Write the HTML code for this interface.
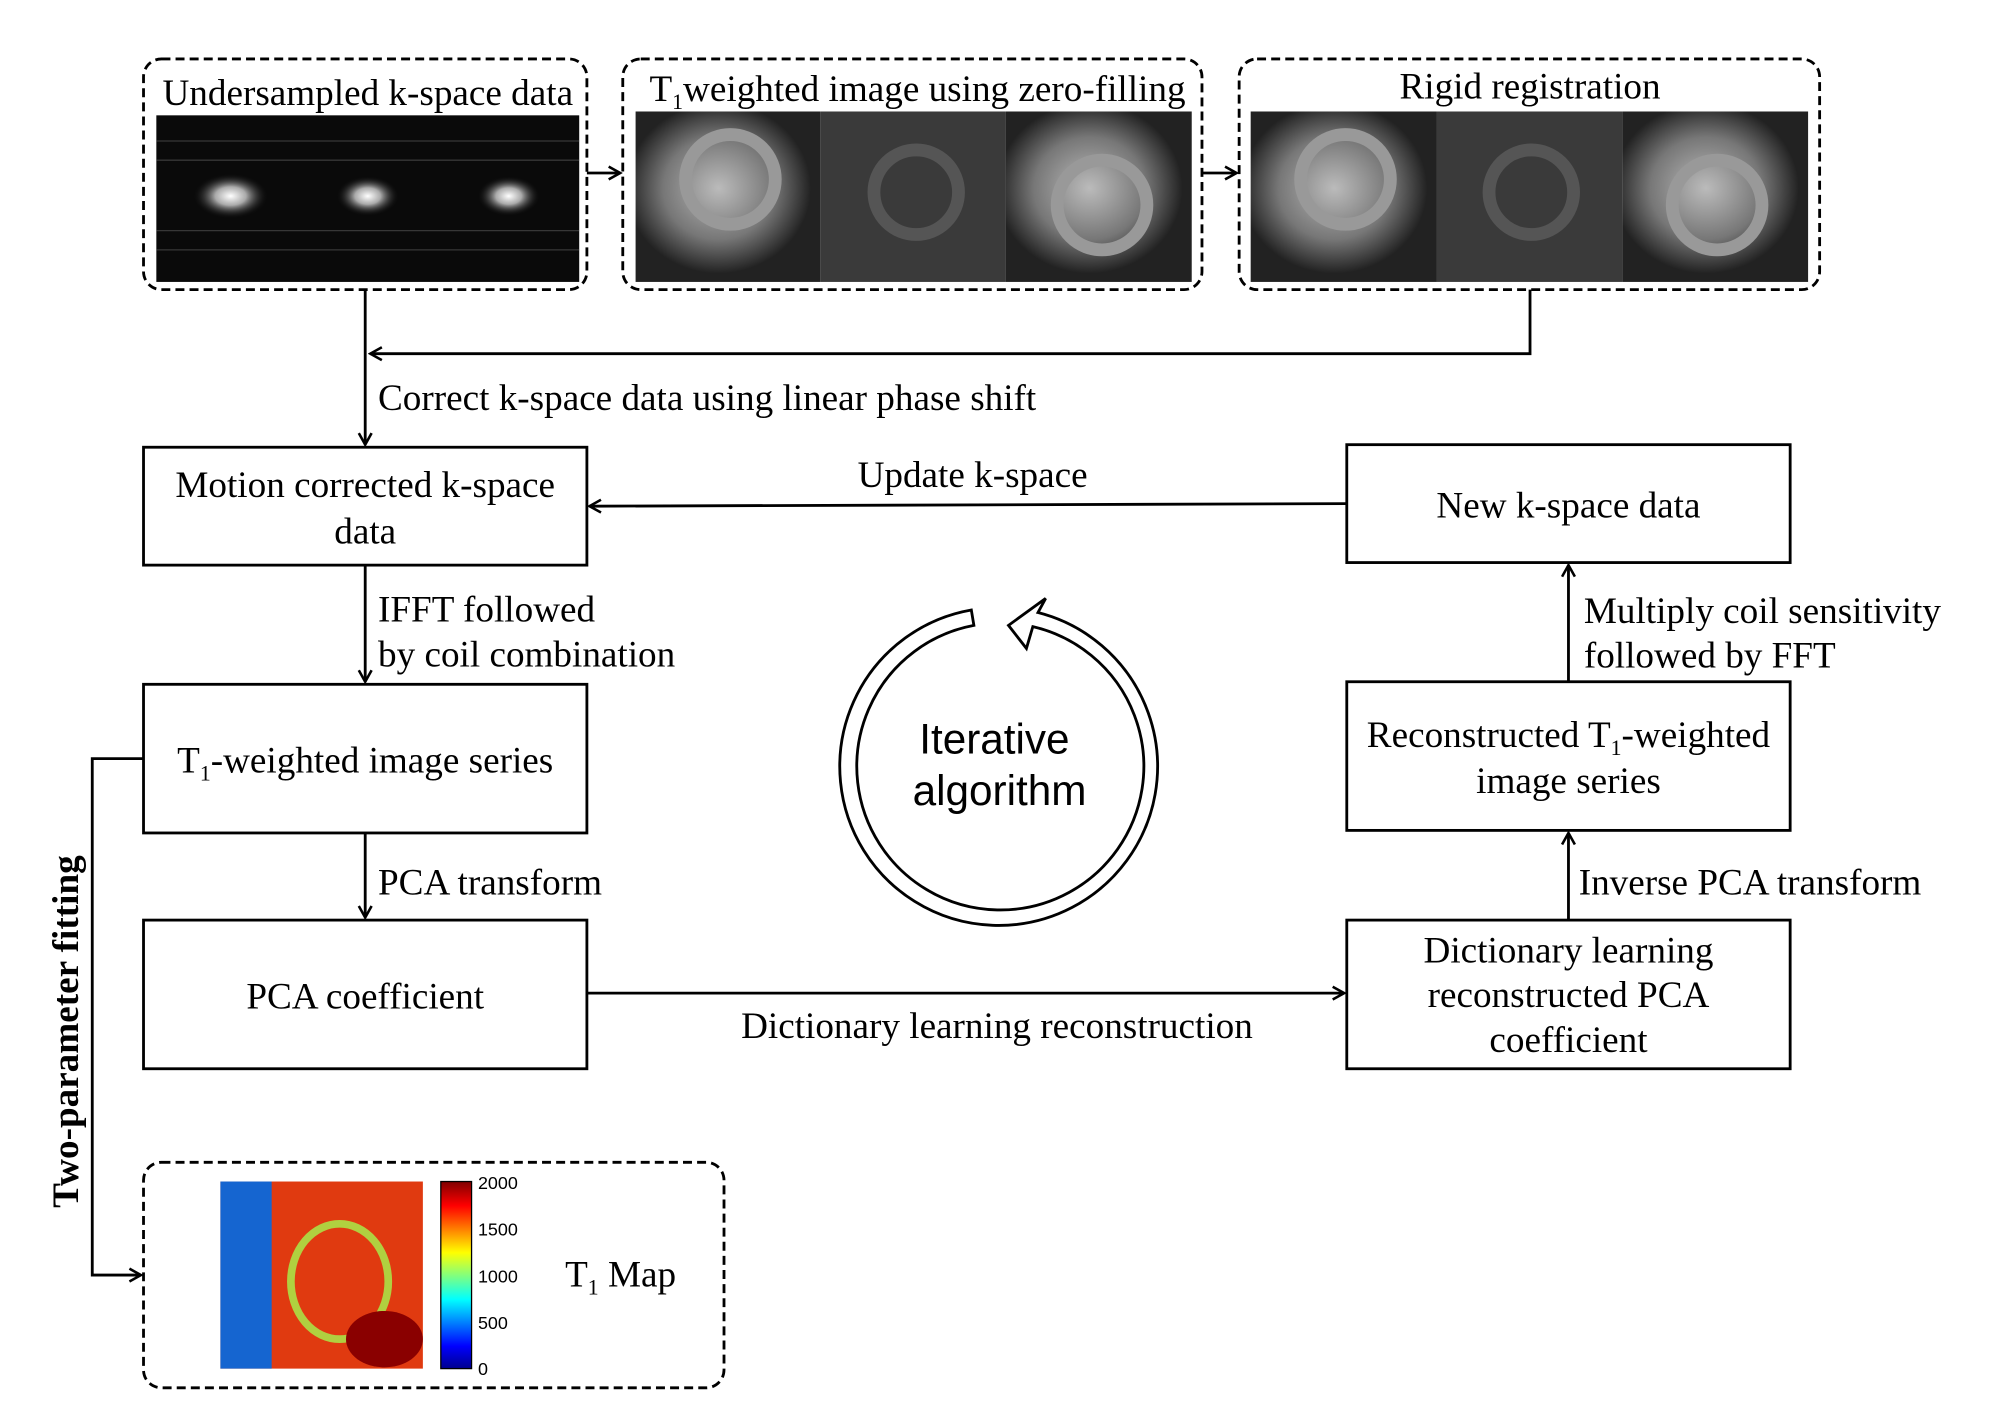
<!DOCTYPE html>
<html><head><meta charset="utf-8"><style>html,body{margin:0;padding:0;background:#fff}svg{display:block}</style></head>
<body>
<svg width="2008" height="1425" viewBox="0 0 1567 1112" preserveAspectRatio="none" xmlns="http://www.w3.org/2000/svg" font-family="Liberation Serif, serif" font-size="29">
<defs>
<marker id="a" markerWidth="12" markerHeight="12" refX="10" refY="6" orient="auto" markerUnits="userSpaceOnUse"><path d="M1,1 L10,6 L1,11" fill="none" stroke="#000" stroke-width="2"/></marker>
<linearGradient id="cb" x1="0" y1="1" x2="0" y2="0"><stop offset="0" stop-color="#00008f"/><stop offset="0.12" stop-color="#0000ff"/><stop offset="0.37" stop-color="#00ffff"/><stop offset="0.62" stop-color="#ffff00"/><stop offset="0.87" stop-color="#ff0000"/><stop offset="1" stop-color="#800000"/></linearGradient>
<radialGradient id="sp"><stop offset="0" stop-color="#fff"/><stop offset="0.4" stop-color="#aaa"/><stop offset="1" stop-color="#000" stop-opacity="0"/></radialGradient>
<radialGradient id="hr" cx="0.45" cy="0.45"><stop offset="0" stop-color="#bbb"/><stop offset="0.6" stop-color="#777"/><stop offset="1" stop-color="#222"/></radialGradient>
</defs>
<g fill="none" stroke="#000" stroke-width="2.2" stroke-dasharray="7,4">
<rect x="112" y="46" width="346" height="180" rx="14"/>
<rect x="486" y="46" width="452" height="180" rx="14"/>
<rect x="967" y="46" width="453" height="180" rx="14"/>
<rect x="112" y="907" width="453" height="176" rx="14"/>
</g>
<rect x="122" y="90" width="330" height="130" fill="#0a0a0a"/>
<g fill="url(#sp)"><ellipse cx="180" cy="153" rx="30" ry="18"/><ellipse cx="287" cy="153" rx="25" ry="16"/><ellipse cx="397" cy="153" rx="25" ry="16"/></g>
<g stroke="#555" stroke-width="1" opacity="0.6"><line x1="122" y1="110" x2="452" y2="110"/><line x1="122" y1="125" x2="452" y2="125"/><line x1="122" y1="180" x2="452" y2="180"/><line x1="122" y1="195" x2="452" y2="195"/></g>
<g>
<rect x="496" y="87" width="144" height="133" fill="url(#hr)"/><rect x="640" y="87" width="145" height="133" fill="#3a3a3a"/><rect x="785" y="87" width="145" height="133" fill="url(#hr)"/>
<rect x="976" y="87" width="145" height="133" fill="url(#hr)"/><rect x="1121" y="87" width="145" height="133" fill="#3a3a3a"/><rect x="1266" y="87" width="145" height="133" fill="url(#hr)"/>
<g fill="none" stroke="#999" stroke-width="10"><circle cx="570" cy="140" r="35"/><circle cx="715" cy="150" r="33" stroke="#555"/><circle cx="860" cy="160" r="35"/><circle cx="1050" cy="140" r="35"/><circle cx="1195" cy="150" r="33" stroke="#555"/><circle cx="1340" cy="160" r="35"/></g>
</g>
<g text-anchor="middle" fill="#000">
<text x="287" y="82">Undersampled k-space data</text>
<text x="716" y="79">T<tspan font-size="17" dy="6">1</tspan><tspan dy="-6">weighted image using zero-filling</tspan></text>
<text x="1194" y="77">Rigid registration</text>
</g>
<g fill="none" stroke="#000" stroke-width="2.2">
<line x1="458" y1="135" x2="484" y2="135" marker-end="url(#a)"/>
<line x1="938" y1="135" x2="965" y2="135" marker-end="url(#a)"/>
<polyline points="1194,226 1194,276 289,276" marker-end="url(#a)"/>
<line x1="285" y1="226" x2="285" y2="347" marker-end="url(#a)"/>
<line x1="1051" y1="393" x2="460" y2="395" marker-end="url(#a)"/>
<line x1="285" y1="441" x2="285" y2="532" marker-end="url(#a)"/>
<line x1="285" y1="650" x2="285" y2="716" marker-end="url(#a)"/>
<line x1="458" y1="775" x2="1049" y2="775" marker-end="url(#a)"/>
<line x1="1224" y1="718" x2="1224" y2="650" marker-end="url(#a)"/>
<line x1="1224" y1="532" x2="1224" y2="441" marker-end="url(#a)"/>
<polyline points="112,592 72,592 72,995 110,995" marker-end="url(#a)"/>
<rect x="112" y="349" width="346" height="92"/>
<rect x="1051" y="347" width="346" height="92"/>
<rect x="112" y="534" width="346" height="116"/>
<rect x="1051" y="532" width="346" height="116"/>
<rect x="112" y="718" width="346" height="116"/>
<rect x="1051" y="718" width="346" height="116"/>
</g>
<g fill="#000">
<text x="295" y="320">Correct k-space data using linear phase shift</text>
<text x="295" y="485">IFFT followed</text><text x="295" y="520">by coil combination</text>
<text x="295" y="698">PCA transform</text>
<text x="1232" y="698">Inverse PCA transform</text>
<text x="1236" y="486">Multiply coil sensitivity</text><text x="1236" y="521">followed by FFT</text>
</g>
<g text-anchor="middle" fill="#000">
<text x="285" y="388">Motion corrected k-space</text><text x="285" y="424">data</text>
<text x="1224" y="404">New k-space data</text>
<text x="285" y="603">T<tspan font-size="17" dy="6">1</tspan><tspan dy="-6">-weighted image series</tspan></text>
<text x="1224" y="583">Reconstructed T<tspan font-size="17" dy="6">1</tspan><tspan dy="-6">-weighted</tspan></text><text x="1224" y="619">image series</text>
<text x="285" y="787">PCA coefficient</text>
<text x="1224" y="751">Dictionary learning</text><text x="1224" y="786">reconstructed PCA</text><text x="1224" y="821">coefficient</text>
<text x="759" y="380">Update k-space</text>
<text x="778" y="810">Dictionary learning reconstruction</text>
<text transform="translate(61,805) rotate(-90)" font-weight="bold">Two-parameter fitting</text>
</g>
<path d="M758,476 A124,124 0 1 0 810,478 L816,467 L787,488 L801,506 L806,489 A112,112 0 1 1 760,488 Z" fill="#fff" stroke="#000" stroke-width="2.2" stroke-linejoin="miter"/>
<g font-family="Liberation Sans, sans-serif" font-size="33" text-anchor="middle"><text x="776" y="588">Iterative</text><text x="780" y="628">algorithm</text></g>
<rect x="172" y="922" width="158" height="146" fill="#e03a10"/>
<rect x="172" y="922" width="40" height="146" fill="#1565d0"/>
<ellipse cx="265" cy="1000" rx="38" ry="45" fill="none" stroke="#b0d040" stroke-width="6"/>
<ellipse cx="300" cy="1045" rx="30" ry="22" fill="#8a0000"/>
<rect x="344" y="922" width="24" height="146" fill="url(#cb)" stroke="#000"/>
<g font-family="Liberation Sans, sans-serif" font-size="14"><text x="373" y="928">2000</text><text x="373" y="964">1500</text><text x="373" y="1001">1000</text><text x="373" y="1037">500</text><text x="373" y="1073">0</text></g>
<text x="441" y="1004">T<tspan font-size="17" dy="6">1</tspan><tspan dy="-6"> Map</tspan></text>
</svg>
</body></html>
